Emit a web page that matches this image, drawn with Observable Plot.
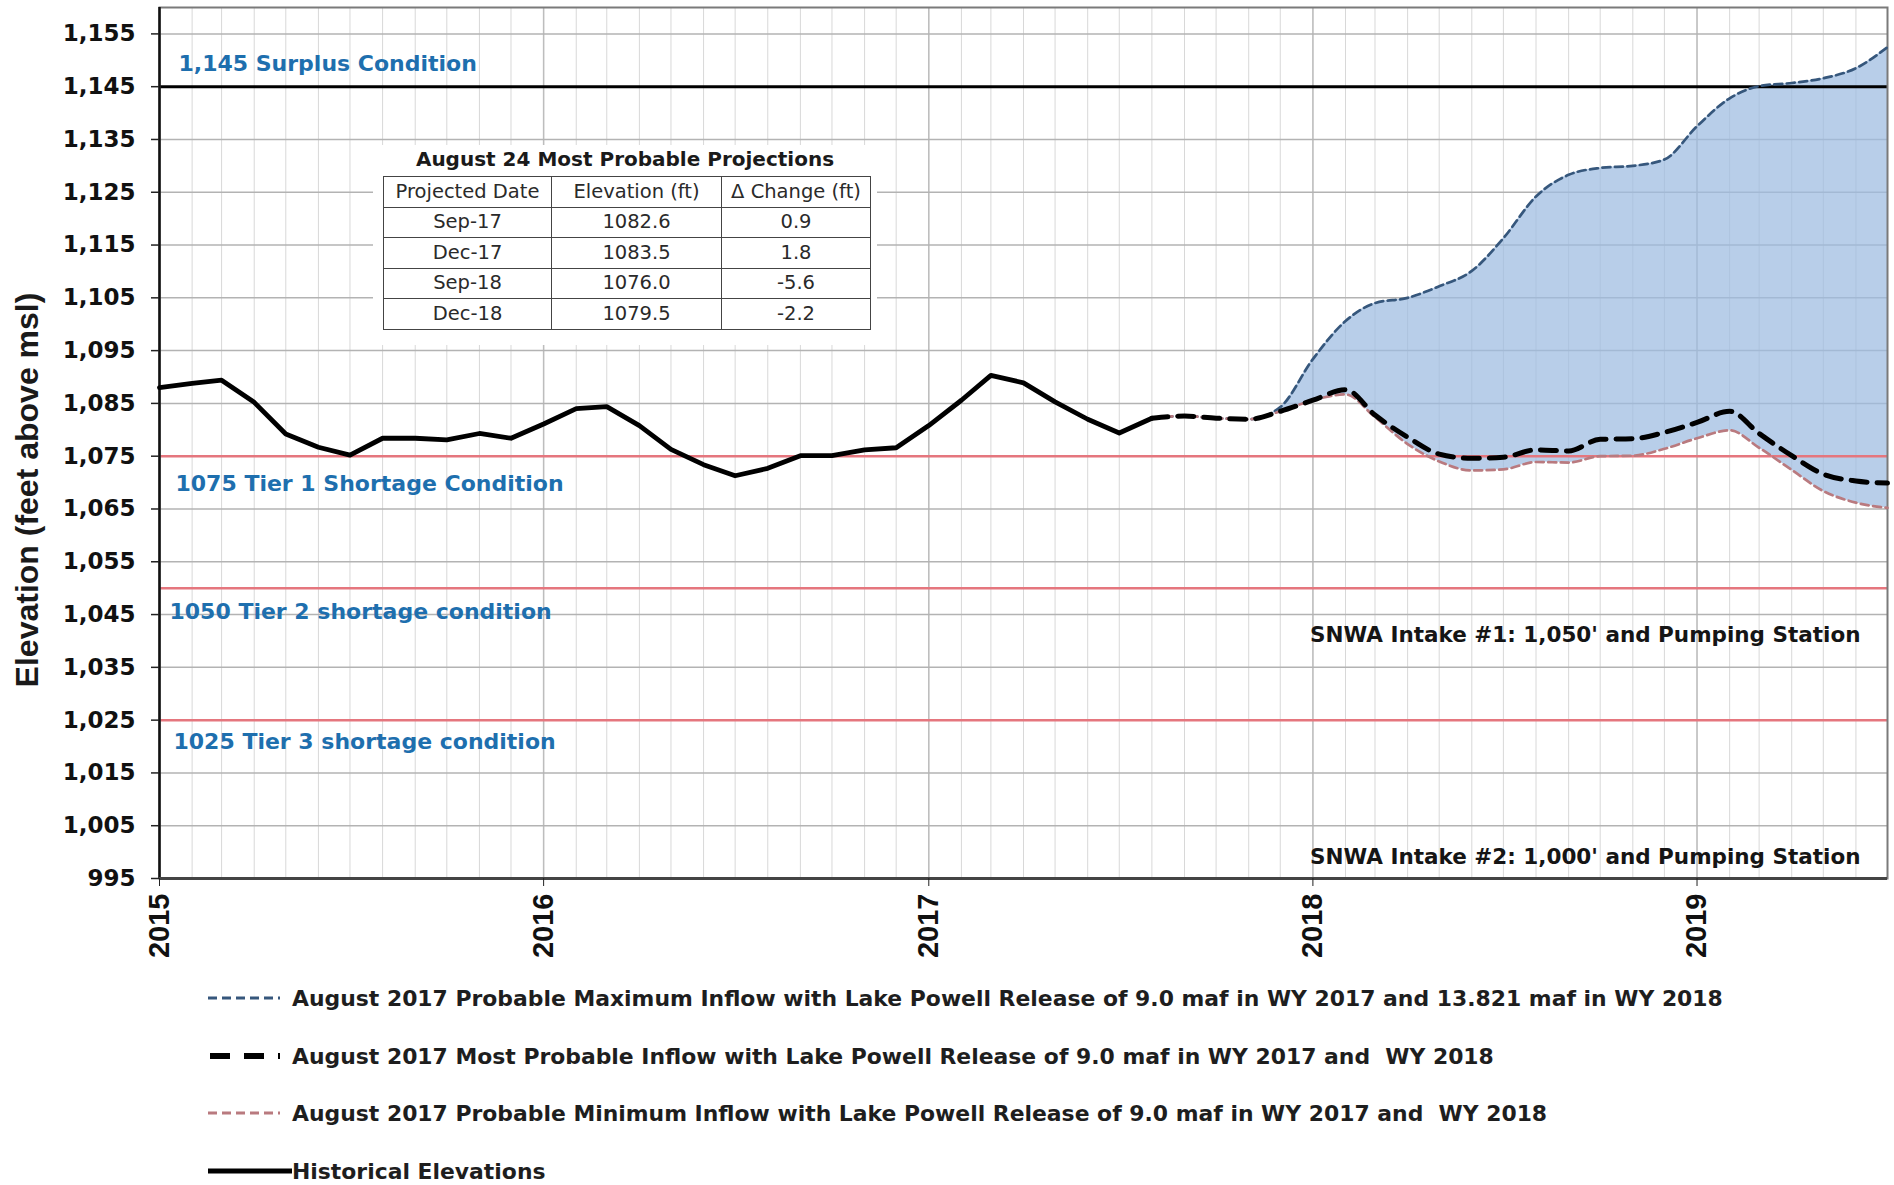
<!DOCTYPE html>
<html>
<head>
<meta charset="utf-8">
<script src="https://cdn.jsdelivr.net/npm/d3@7"></script>
<script src="https://cdn.jsdelivr.net/npm/@observablehq/plot@0.6"></script>
<style>
html, body { margin: 0; padding: 0; background: #fff; }
#wrap { position: relative; width: 1894px; height: 1185px; overflow: hidden; font-family: "DejaVu Sans", sans-serif; background: #fff; }
#chart { position: absolute; left: 0; top: 0; }
#ytitle { position: absolute; left: 27px; top: 490px; transform: translate(-50%, -50%) rotate(-90deg); font: bold 32px "Liberation Sans", sans-serif; white-space: nowrap; color: #1a1a1a; }
#tablebox { position: absolute; left: 373px; top: 145px; width: 504px; height: 200px; background: #fff; }
#ttitle { position: absolute; left: 383px; width: 484px; top: 147px; line-height: 25px; text-align: center; font: bold 20px "DejaVu Sans", sans-serif; color: #1a1a1a; }
#ptable { position: absolute; left: 383px; top: 176px; border-collapse: collapse; font: 19.5px "DejaVu Sans", sans-serif; color: #2a2a2a; }
#ptable td { border: 1.5px solid #444; height: 29.5px; padding: 0; text-align: center; line-height: 20px; }
.lg { position: absolute; left: 208px; height: 30px; display: flex; align-items: center; white-space: pre; font: bold 21.9px "DejaVu Sans", sans-serif; color: #1e1e1e; }
</style>
</head>
<body>
<div id="wrap">
  <div id="chart"></div>
  <div id="ytitle">Elevation (feet above msl)</div>
  <div id="tablebox"></div>
  <div id="ttitle"></div>
  <table id="ptable"></table>
  <div id="legend"></div>
</div>
<script>
// ---------- DATA ----------
const histMonths = [
  "2015-01","2015-02","2015-03","2015-04","2015-05","2015-06","2015-07","2015-08","2015-09","2015-10","2015-11","2015-12",
  "2016-01","2016-02","2016-03","2016-04","2016-05","2016-06","2016-07","2016-08","2016-09","2016-10","2016-11","2016-12",
  "2017-01","2017-02","2017-03","2017-04","2017-05","2017-06","2017-07","2017-08"
];
const histValues = [
  1088.0, 1088.8, 1089.4, 1085.2, 1079.2, 1076.7, 1075.2, 1078.4, 1078.4, 1078.1, 1079.3, 1078.4,
  1081.1, 1084.0, 1084.4, 1080.8, 1076.3, 1073.4, 1071.3, 1072.7, 1075.1, 1075.1, 1076.2, 1076.6,
  1080.8, 1085.6, 1090.3, 1088.9, 1085.3, 1082.0, 1079.4, 1082.2
];

const projMonths = [
  "2017-08","2017-09","2017-10","2017-11","2017-12",
  "2018-01","2018-02","2018-03","2018-04","2018-05","2018-06","2018-07","2018-08","2018-09","2018-10","2018-11","2018-12",
  "2019-01","2019-02","2019-03","2019-04","2019-05","2019-06","2019-07"
];
const projMax = [
  1082.2, 1082.6, 1082.2, 1082.0, 1084.3,
  1093.4, 1100.6, 1104.0, 1105.0, 1107.2, 1110.1, 1116.3, 1124.2, 1128.3, 1129.6, 1130.0, 1131.2,
  1137.5, 1142.8, 1145.1, 1145.7, 1146.6, 1148.5, 1152.5
];
const projMost = [
  1082.2, 1082.6, 1082.2, 1082.0, 1083.5,
  1085.6, 1087.6, 1082.8, 1078.6, 1075.4, 1074.6, 1074.8, 1076.2, 1076.0, 1078.2, 1078.3, 1079.5,
  1081.4, 1083.5, 1079.3, 1075.1, 1071.6, 1070.3, 1069.9
];
const projMin = [
  1082.2, 1082.6, 1082.2, 1082.0, 1083.5,
  1085.6, 1086.7, 1082.4, 1077.3, 1074.0, 1072.3, 1072.5, 1073.9, 1073.8, 1075.0, 1075.1, 1076.4,
  1078.4, 1079.9, 1076.6, 1072.4, 1068.4, 1066.2, 1065.2
];

const yTicks = [995, 1005, 1015, 1025, 1035, 1045, 1055, 1065, 1075, 1085, 1095, 1105, 1115, 1125, 1135, 1145, 1155];
const tickYears = ["2015", "2016", "2017", "2018", "2019"];

const conditionValues = [1145, 1075, 1050, 1025];
const conditionLabels = ["1,145 Surplus Condition", "1075 Tier 1 Shortage Condition", "1050 Tier 2 shortage condition", "1025 Tier 3 shortage condition"];

const intakeValues = [1050, 1000];
const intakeLabels = ["SNWA Intake #1: 1,050' and Pumping Station", "SNWA Intake #2: 1,000' and Pumping Station"];

const tableTitle = "August 24 Most Probable Projections";
const tableHeader = ["Projected Date", "Elevation (ft)", "\u0394 Change (ft)"];
const tableDates = ["Sep-17", "Dec-17", "Sep-18", "Dec-18"];
const tableElev = ["1082.6", "1083.5", "1076.0", "1079.5"];
const tableChange = ["0.9", "1.8", "-5.6", "-2.2"];

const legendLabels = [
  "August 2017 Probable Maximum Inflow with Lake Powell Release of 9.0 maf in WY 2017 and 13.821 maf in WY 2018",
  "August 2017 Most Probable Inflow with Lake Powell Release of 9.0 maf in WY 2017 and  WY 2018",
  "August 2017 Probable Minimum Inflow with Lake Powell Release of 9.0 maf in WY 2017 and  WY 2018",
  "Historical Elevations"
];

// ---------- BUILD ----------
const parseM = d3.utcParse("%Y-%m");
const parseY = d3.utcParse("%Y");
const hist = histMonths.map((m, i) => ({date: parseM(m), value: histValues[i]}));
const proj = projMonths.map((m, i) => ({date: parseM(m), max: projMax[i], most: projMost[i], min: projMin[i]}));
const xStart = parseM(histMonths[0]);
const xEnd = parseM(projMonths[projMonths.length - 1]);
const yearDates = tickYears.map(parseY);
const monthDates = d3.utcMonth.range(xStart, xEnd);

const blue = "#1e6fae";
const redLine = "#e5767e";
const maxColor = "#36577c";
const minColor = "#b97a7f";

const condStyle = [
  {dx: 19, dy: -23},
  {dx: 16, dy: 28},
  {dx: 10, dy: 24},
  {dx: 14, dy: 22}
];
const intakeStyle = [{dy: 47}, {dy: 5}];

const marks = [
  Plot.ruleX(monthDates, {stroke: "#d8d8d8", strokeWidth: 1}),
  Plot.ruleX(yearDates, {stroke: "#bdbdbd", strokeWidth: 1.5}),
  Plot.ruleY(yTicks, {stroke: "#b3b3b3", strokeWidth: 1.5}),
  Plot.areaY(proj, {x: "date", y1: "min", y2: "max", fill: "#9dbbe0", fillOpacity: 0.72, curve: "monotone-x"}),
  Plot.ruleY(conditionValues.slice(1), {stroke: redLine, strokeWidth: 2.5}),
  Plot.ruleY(conditionValues.slice(0, 1), {stroke: "#000", strokeWidth: 3}),
  Plot.frame({stroke: "#7a7a7a", strokeWidth: 2}),
  Plot.ruleX([xStart], {stroke: "#111", strokeWidth: 2.5}),
  Plot.ruleY([995], {stroke: "#444", strokeWidth: 3}),
  Plot.line(hist, {x: "date", y: "value", stroke: "#000", strokeWidth: 4.8, strokeLinejoin: "round"}),
  Plot.line(proj, {x: "date", y: "max", stroke: maxColor, strokeWidth: 2.7, strokeDasharray: "8,4.5", curve: "monotone-x"}),
  Plot.line(proj, {x: "date", y: "min", stroke: minColor, strokeWidth: 2.7, strokeDasharray: "8,4.5", curve: "monotone-x"}),
  Plot.line(proj, {x: "date", y: "most", stroke: "#000", strokeWidth: 5, strokeDasharray: "16,10", curve: "monotone-x"}),
  Plot.axisY(yTicks, {tickFormat: d3.format(","), tickSize: 8, tickPadding: 16, fontSize: 23, fontFamily: "DejaVu Sans", label: null, stroke: "#222", strokeWidth: 1.5, fill: "#111"}),
  Plot.axisX(yearDates, {tickFormat: d3.utcFormat("%Y"), tickRotate: -90, tickSize: 8, tickPadding: 7, fontSize: 29, fontFamily: "Liberation Sans", label: null, stroke: "#222", fill: "#111"})
];

conditionLabels.forEach((t, i) => {
  marks.push(Plot.text([{v: conditionValues[i], t}], {
    y: "v", text: "t", frameAnchor: "left", textAnchor: "start",
    dx: condStyle[i].dx, dy: condStyle[i].dy, fill: blue, fontSize: 22, fontFamily: "DejaVu Sans", fontWeight: "bold"
  }));
});
intakeLabels.forEach((t, i) => {
  marks.push(Plot.text([{v: intakeValues[i], t}], {
    y: "v", text: "t", frameAnchor: "right", textAnchor: "end",
    dx: -27, dy: intakeStyle[i].dy, fill: "#151515", fontSize: 21.5, fontFamily: "DejaVu Sans", fontWeight: "bold"
  }));
});

const chart = Plot.plot({
  width: 1894,
  height: 985,
  marginLeft: 159,
  marginRight: 7,
  marginTop: 7,
  marginBottom: 107,
  x: {type: "utc", domain: [xStart, xEnd]},
  y: {domain: [995, 1160]},
  style: {fontFamily: "DejaVu Sans", fontWeight: "bold", background: "#fff", overflow: "visible"},
  marks
});
document.getElementById("chart").appendChild(chart);

// ---------- TABLE ----------
document.getElementById("ttitle").textContent = tableTitle;
const table = document.getElementById("ptable");
const colW = [167, 169, 148];
const rows = [tableHeader].concat(tableDates.map((d, i) => [d, tableElev[i], tableChange[i]]));
rows.forEach(r => {
  const tr = document.createElement("tr");
  r.forEach((c, j) => {
    const td = document.createElement("td");
    td.textContent = c;
    td.style.width = colW[j] + "px";
    tr.appendChild(td);
  });
  table.appendChild(tr);
});

// ---------- LEGEND ----------
const legendSw = [
  `<line x1="0" y1="15" x2="72" y2="15" stroke="${maxColor}" stroke-width="3" stroke-dasharray="9,5"/>`,
  `<line x1="2" y1="15" x2="72" y2="15" stroke="#000" stroke-width="6" stroke-dasharray="20,14"/>`,
  `<line x1="0" y1="15" x2="72" y2="15" stroke="${minColor}" stroke-width="3" stroke-dasharray="9,5"/>`,
  `<line x1="0" y1="15" x2="84" y2="15" stroke="#000" stroke-width="5"/>`
];
const legendY = [998, 1056, 1113, 1171];
const lg = document.getElementById("legend");
legendLabels.forEach((t, i) => {
  const d = document.createElement("div");
  d.className = "lg";
  d.style.top = (legendY[i] - 15) + "px";
  const w = i === 3 ? 84 : 72;
  d.innerHTML = `<svg width="${w}" height="30" style="margin-right:${i === 3 ? 0 : 12}px">${legendSw[i]}</svg>`;
  const s = document.createElement("span");
  s.textContent = t;
  d.appendChild(s);
  lg.appendChild(d);
});
</script>
</body>
</html>
